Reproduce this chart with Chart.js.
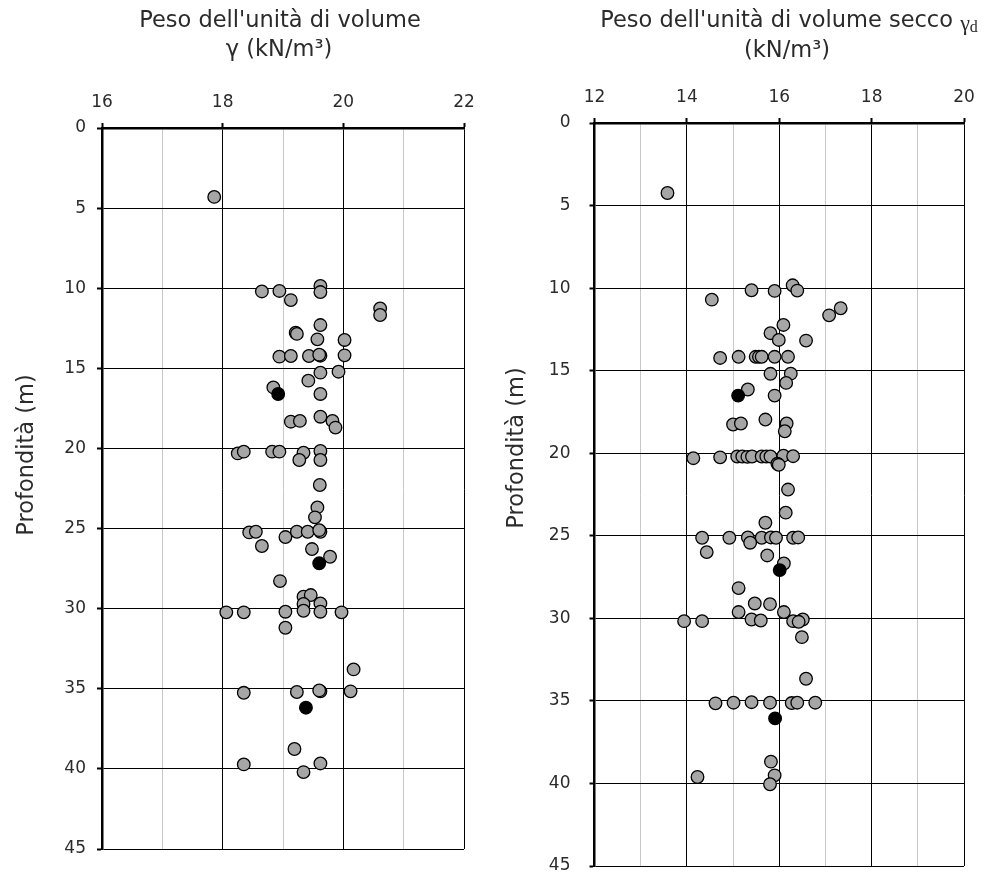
<!DOCTYPE html>
<html lang="it">
<head>
<meta charset="utf-8">
<title>Peso dell'unità di volume</title>
<script src="https://cdn.jsdelivr.net/npm/chart.js@4.4.1/dist/chart.umd.min.js"></script>
<style>
  html, body { margin: 0; padding: 0; background: #fff; }
  .box { position: absolute; top: 0; width: 495px; height: 874px; }
  #boxGamma { left: 0; }
  #boxSecco { left: 495px; }
</style>
</head>
<body>
<div class="box" id="boxGamma"><canvas id="chartGamma"></canvas></div>
<div class="box" id="boxSecco"><canvas id="chartSecco"></canvas></div>
<script>
// peso dell'unità di volume γ (kN/m3) e profondità del campione (m)
const gamma = [
  17.86, 18.65, 18.94, 19.13, 19.62, 19.62, 20.61, 20.61, 19.62, 19.21,
  19.23, 19.57, 20.02, 18.94, 19.13, 19.43, 19.62, 19.60, 20.02, 19.62,
  19.92, 19.42, 18.84, 19.62, 19.13, 19.28, 19.62, 19.82, 19.87, 18.25,
  18.35, 18.82, 18.94, 19.34, 19.27, 19.62, 19.62, 19.61, 19.57, 19.53,
  18.44, 18.55, 18.65, 19.04, 19.23, 19.41, 19.62, 19.60, 19.48, 19.78,
  18.95, 19.34, 19.46, 19.34, 19.62, 18.06, 18.35, 19.04, 19.34, 19.62,
  19.97, 19.04, 20.17, 18.35, 19.23, 19.62, 19.60, 20.12, 19.19, 18.35,
  19.62, 19.34
];
const profGamma = [
  4.3, 10.2, 10.17, 10.74, 9.86, 10.24, 11.26, 11.67, 12.3, 12.78,
  12.85, 13.19, 13.23, 14.27, 14.23, 14.23, 14.21, 14.15, 14.19, 15.27,
  15.21, 15.77, 16.19, 16.6, 18.33, 18.28, 18.02, 18.28, 18.7, 20.31,
  20.2, 20.2, 20.2, 20.27, 20.72, 20.16, 20.72, 22.28, 23.68, 24.3,
  25.24, 25.2, 26.09, 25.53, 25.2, 25.2, 25.2, 25.1, 26.28, 26.76,
  28.28, 29.25, 29.15, 29.71, 29.67, 30.23, 30.23, 30.19, 30.13, 30.19,
  30.23, 31.19, 33.79, 35.25, 35.2, 35.16, 35.1, 35.16, 38.76, 39.72,
  39.66, 40.2
];
// campioni evidenziati (pallino nero)
const gammaNeri = [18.92, 19.60, 19.38];
const profGammaNeri = [16.6, 27.17, 36.18];

// peso dell'unità di volume secco γd (kN/m3)
const gammaSecco = [
  13.58, 14.54, 15.40, 15.90, 16.29, 16.39, 17.33, 17.08, 16.09, 15.81,
  15.99, 16.58, 14.72, 15.12, 15.49, 15.56, 15.62, 15.90, 16.19, 15.81,
  16.25, 16.15, 15.32, 15.90, 15.00, 15.17, 15.70, 16.16, 16.12, 14.14,
  14.72, 15.09, 15.20, 15.31, 15.41, 15.62, 15.72, 15.81, 16.09, 16.30,
  15.96, 15.99, 16.19, 16.14, 15.70, 14.33, 14.92, 15.32, 15.62, 15.82,
  15.93, 16.30, 16.41, 15.37, 14.43, 15.74, 16.10, 15.12, 15.47, 15.80,
  15.12, 16.10, 13.94, 14.33, 15.40, 15.60, 16.30, 16.51, 16.42, 16.49,
  16.58, 14.62, 15.01, 15.40, 15.80, 16.27, 16.39, 16.78, 15.82, 15.90,
  15.80, 14.23
];
const profSecco = [
  4.24, 10.70, 10.13, 10.17, 9.83, 10.15, 11.22, 11.65, 12.23, 12.73,
  13.14, 13.18, 14.23, 14.16, 14.16, 14.16, 14.16, 14.16, 14.16, 15.19,
  15.18, 15.74, 16.14, 16.51, 18.26, 18.2, 17.96, 18.2, 18.67, 20.3,
  20.25, 20.2, 20.2, 20.22, 20.2, 20.2, 20.2, 20.2, 20.15, 20.18,
  20.64, 20.7, 22.2, 23.6, 24.21, 25.12, 25.12, 25.1, 25.12, 25.1,
  25.12, 25.12, 25.1, 25.42, 25.99, 26.19, 26.68, 28.17, 29.1, 29.14,
  29.62, 29.62, 30.17, 30.17, 30.07, 30.13, 30.17, 30.07, 30.21, 31.14,
  33.66, 35.15, 35.11, 35.08, 35.11, 35.13, 35.11, 35.11, 38.68, 39.51,
  40.05, 39.61
];
const gammaSeccoNeri = [15.11, 16.01, 15.91];
const profSeccoNeri = [16.51, 27.08, 36.06];

// etichette degli assi
const tickGamma = [16, 18, 20, 22];
const tickSecco = [12, 14, 16, 18, 20];

const SANS = '"DejaVu Sans", sans-serif';
const SERIF = '"Liberation Serif", "DejaVu Serif", serif';
const TESTO = '#2b2b2b';

Chart.defaults.font.family = SANS;
Chart.defaults.color = TESTO;

const punti = (xs, ys) => xs.map((x, i) => ({ x: x, y: ys[i] }));

// titoli sopra il grafico + titolo dell'asse verticale
const intestazione = (righe, asse) => ({
  id: 'intestazione',
  afterDraw(chart) {
    const ctx = chart.ctx;
    ctx.save();
    ctx.fillStyle = TESTO;
    ctx.textAlign = 'left';
    ctx.textBaseline = 'alphabetic';
    righe.forEach((riga) => {
      let w = 0;
      riga.pezzi.forEach((p) => {
        ctx.font = p.font;
        w += ctx.measureText(p.t).width;
      });
      let x = riga.x - w / 2;
      riga.pezzi.forEach((p) => {
        ctx.font = p.font;
        ctx.fillText(p.t, x, riga.y + (p.dy || 0));
        x += ctx.measureText(p.t).width;
      });
    });
    ctx.translate(asse.x, asse.y);
    ctx.rotate(-Math.PI / 2);
    ctx.textAlign = 'center';
    ctx.font = '22.5px ' + SANS;
    ctx.fillText('Profondità (m)', 0, 0);
    ctx.restore();
  },
});

function creaGrafico(id, cfg) {
  const etichetta = (v) => cfg.etichette.includes(v);
  return new Chart(document.getElementById(id), {
    type: 'scatter',
    data: {
      datasets: [
        {
          data: punti(cfg.neriX, cfg.neriY),
          backgroundColor: '#000',
          borderColor: '#000',
          borderWidth: 1.3,
          pointRadius: 6.3,
        },
        {
          data: punti(cfg.x, cfg.y),
          backgroundColor: '#a6a6a6',
          borderColor: '#000',
          borderWidth: 1.3,
          pointRadius: 6.3,
        },
      ],
    },
    options: {
      responsive: true,
      maintainAspectRatio: false,
      animation: false,
      events: [],
      layout: { padding: cfg.padding },
      plugins: { legend: { display: false }, tooltip: { enabled: false } },
      scales: {
        x: {
          type: 'linear',
          position: 'top',
          min: cfg.min,
          max: cfg.max,
          afterFit: (s) => {
            s.height = cfg.altezzaX;
            s.paddingLeft = 0;
            s.paddingRight = 0;
          },
          ticks: {
            stepSize: 1,
            padding: 10,
            autoSkip: false,
            maxRotation: 0,
            font: { size: 17 },
            callback: (v) => (etichetta(v) ? v : ''),
          },
          grid: {
            color: (c) => (c.tick && !etichetta(c.tick.value) ? '#c8c8c8' : '#000'),
            tickColor: (c) => (c.tick && etichetta(c.tick.value) ? '#000' : 'rgba(0,0,0,0)'),
            tickLength: 5,
            tickWidth: 2,
          },
          border: { color: '#000', width: 2.5 },
        },
        y: {
          type: 'linear',
          reverse: true,
          min: 0,
          max: 45,
          afterFit: (s) => {
            s.width = cfg.larghezzaY;
            s.paddingTop = 0;
            s.paddingBottom = 0;
          },
          ticks: { stepSize: 5, padding: cfg.padY, font: { size: 17 } },
          grid: { color: '#000', tickColor: '#000', tickLength: 5, tickWidth: 2 },
          border: { color: '#000', width: 2.5 },
        },
      },
    },
    plugins: [intestazione(cfg.righe, cfg.asse)],
  });
}

creaGrafico('chartGamma', {
  x: gamma, y: profGamma, neriX: gammaNeri, neriY: profGammaNeri,
  min: 16, max: 22, etichette: tickGamma,
  padding: { top: 0, left: 0, right: 31, bottom: 25 },
  altezzaX: 128, larghezzaY: 102, padY: 11,
  righe: [
    { x: 280, y: 27, pezzi: [{ t: "Peso dell'unità di volume", font: '22.5px ' + SANS }] },
    { x: 279, y: 56, pezzi: [{ t: 'γ (kN/m³)', font: '22.5px ' + SANS }] },
  ],
  asse: { x: 33, y: 455 },
});

creaGrafico('chartSecco', {
  x: gammaSecco, y: profSecco, neriX: gammaSeccoNeri, neriY: profSeccoNeri,
  min: 12, max: 20, etichette: tickSecco,
  padding: { top: 0, left: 0, right: 26, bottom: 8 },
  altezzaX: 123, larghezzaY: 99.5, padY: 19,
  righe: [
    { x: 294, y: 27, pezzi: [
      { t: "Peso dell'unità di volume secco ", font: '22.5px ' + SANS },
      { t: 'γ', font: '22px ' + SERIF, dy: 3 },
      { t: 'd', font: '16px ' + SERIF, dy: 5 },
    ] },
    { x: 292, y: 57, pezzi: [{ t: '(kN/m³)', font: '22.5px ' + SANS }] },
  ],
  asse: { x: 28, y: 448 },
});
</script>
</body>
</html>
